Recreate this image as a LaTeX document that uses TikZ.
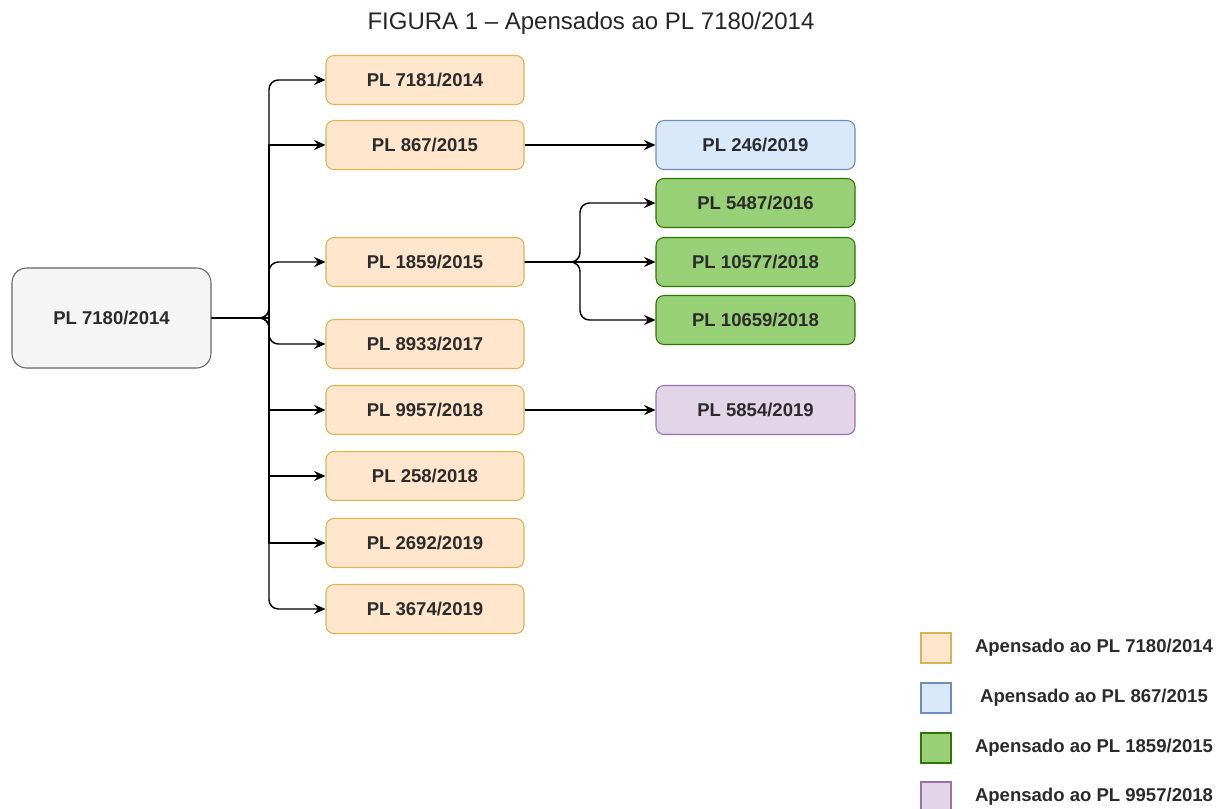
\documentclass[tikz,border=0pt]{standalone}
\usepackage{fontspec}
\setmainfont{Liberation Sans}
\usepackage{xcolor}
\usetikzlibrary{arrows.meta}

\definecolor{txtgray}{HTML}{2B2B2B}
\definecolor{mainfill}{HTML}{F5F5F5}
\definecolor{maindraw}{HTML}{666666}
\definecolor{orfill}{HTML}{FFE6CC}
\definecolor{ordraw}{HTML}{D6B656}
\definecolor{blfill}{HTML}{DAE8FC}
\definecolor{bldraw}{HTML}{6C8EBF}
\definecolor{grfill}{HTML}{97D077}
\definecolor{grdraw}{HTML}{2D7600}
\definecolor{pufill}{HTML}{E1D5E7}
\definecolor{pudraw}{HTML}{9673A6}

\begin{document}
\begin{tikzpicture}[
        x=0.75pt, y=-0.75pt,
        >={Stealth[length=8.5pt, width=7.5pt]},
        every node/.style={font=\fontsize{13.9}{16}\selectfont\bfseries, text=txtgray},
        pl/.style={rounded corners=6pt, line width=0.8pt, minimum width=148.5pt, minimum height=36.75pt},
        mainnode/.style={pl, fill=mainfill, draw=maindraw, rounded corners=11pt, minimum height=75pt, minimum width=149.25pt},
        apA/.style={pl, fill=orfill, draw=ordraw},
        apB/.style={pl, fill=blfill, draw=bldraw, minimum width=149.25pt},
        apC/.style={pl, fill=grfill, draw=grdraw, minimum width=149.25pt},
        apD/.style={pl, fill=pufill, draw=pudraw, minimum width=149.25pt},
        key/.style={line width=0.8pt, minimum size=22.5pt, inner sep=0pt},
        link/.style={->, line width=1.1pt, rounded corners=7pt}
    ]

    \useasboundingbox (0,0) rectangle (1227,808);

    \node[font=\fontsize{18}{21}\selectfont, text=black!85] (title) at (591,23) {FIGURA 1 -- Apensados ao PL 7180/2014};

    \node[mainnode] (p7180) at (111.5,318) {PL 7180/2014};

    \node[apA] (p7181) at (425,80) {PL 7181/2014};
    \node[apA] (p867) at (425,145) {PL 867/2015};
    \node[apA] (p1859) at (425,262) {PL 1859/2015};
    \node[apA] (p8933) at (425,344) {PL 8933/2017};
    \node[apA] (p9957) at (425,410) {PL 9957/2018};
    \node[apA] (p258) at (425,476) {PL 258/2018};
    \node[apA] (p2692) at (425,543) {PL 2692/2019};
    \node[apA] (p3674) at (425,609) {PL 3674/2019};

    \node[apB] (p246) at (755.5,145) {PL 246/2019};
    \node[apC] (p5487) at (755.5,203) {PL 5487/2016};
    \node[apC] (p10577) at (755.5,262) {PL 10577/2018};
    \node[apC] (p10659) at (755.5,320) {PL 10659/2018};
    \node[apD] (p5854) at (755.5,410) {PL 5854/2019};

    \coordinate (trunk) at (269,318);
    \coordinate (fork) at (580,262);

    \foreach \n in {p7181,p1859,p8933,p3674}
        \draw[link] (p7180.east) -- (trunk) |- (\n.west);
    \foreach \n in {p867,p9957,p258,p2692}
        \draw[link, sharp corners] (p7180.east) -- (trunk) |- (\n.west);

    \draw[link] (p867.east) -- (p246.west);
    \foreach \n in {p5487,p10659}
        \draw[link] (p1859.east) -- (fork) |- (\n.west);
    \draw[link] (p1859.east) -- (p10577.west);
    \draw[link] (p9957.east) -- (p5854.west);

    \node[key, fill=orfill, draw=ordraw] (kA) at (936,648) {};
    \node[key, fill=blfill, draw=bldraw] (kB) at (936,698) {};
    \node[key, fill=grfill, draw=grdraw] (kC) at (936,748) {};
    \node[key, fill=pufill, draw=pudraw] (kD) at (936,797) {};

    \node (lA) at (1094,648) {Apensado ao PL 7180/2014};
    \node (lB) at (1094,698) {Apensado ao PL 867/2015};
    \node (lC) at (1094,748) {Apensado ao PL 1859/2015};
    \node (lD) at (1094,797) {Apensado ao PL 9957/2018};

    \end{tikzpicture}
\end{document}
